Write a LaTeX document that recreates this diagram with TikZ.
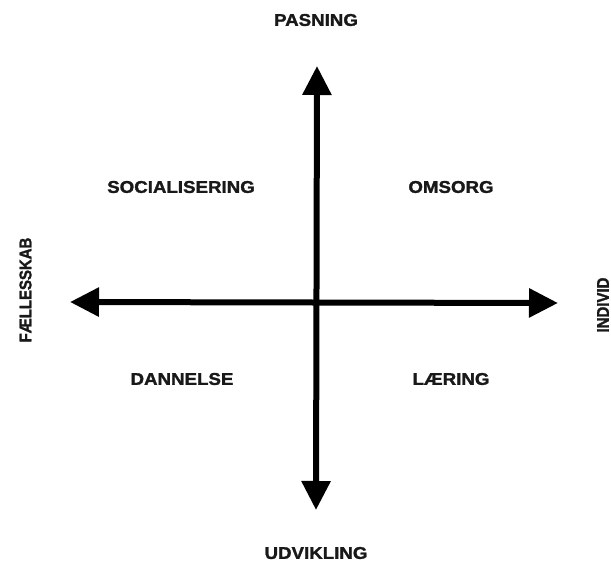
\documentclass[tikz,border=0pt]{standalone}
\usepackage{fontspec}
\setmainfont{Liberation Sans}[FakeStretch=1.1]
\newfontfamily\heavy{Liberation Sans}[FakeStretch=1.1,BoldFont={Liberation Sans Bold},BoldFeatures={FakeBold=1.6}]
\newfontfamily\heavynarrow{Liberation Sans}[FakeStretch=0.88,BoldFont={Liberation Sans Bold},BoldFeatures={FakeBold=1.6}]
\usetikzlibrary{arrows.meta}
\begin{document}
\begin{tikzpicture}[x=1pt,y=-1pt,
  lbl/.style={font=\heavy\fontsize{17}{17}\selectfont\bfseries, text=black!90, inner sep=0pt},
  side/.style={lbl, font=\heavynarrow\fontsize{17}{17}\selectfont\bfseries, rotate=90},
  axis/.style={line width=6pt, {Triangle[length=29pt,width=28pt]}-{Triangle[length=29pt,width=28pt]}}]
\useasboundingbox (0,0) rectangle (611,565);
\coordinate (top) at (317,66);
\coordinate (bottom) at (316,510);
\coordinate (left) at (70,302);
\coordinate (right) at (558,303);
\draw[axis] (left) -- (right);
\draw[axis] (top) -- (bottom);
\node[lbl] (pas) at (316,20) {PASNING};
\node[lbl] (udv) at (316,553) {UDVIKLING};
\node[lbl] (soc) at (181,187) {SOCIALISERING};
\node[lbl] (oms) at (451,187) {OMSORG};
\node[lbl] (dan) at (182,379) {DANNELSE};
\node[lbl] (laer) at (451,379) {LÆRING};
\node[side] (fael) at (25.5,290) {FÆLLESSKAB};
\node[side] (ind) at (603,305) {INDIVID};
\end{tikzpicture}
\end{document}
